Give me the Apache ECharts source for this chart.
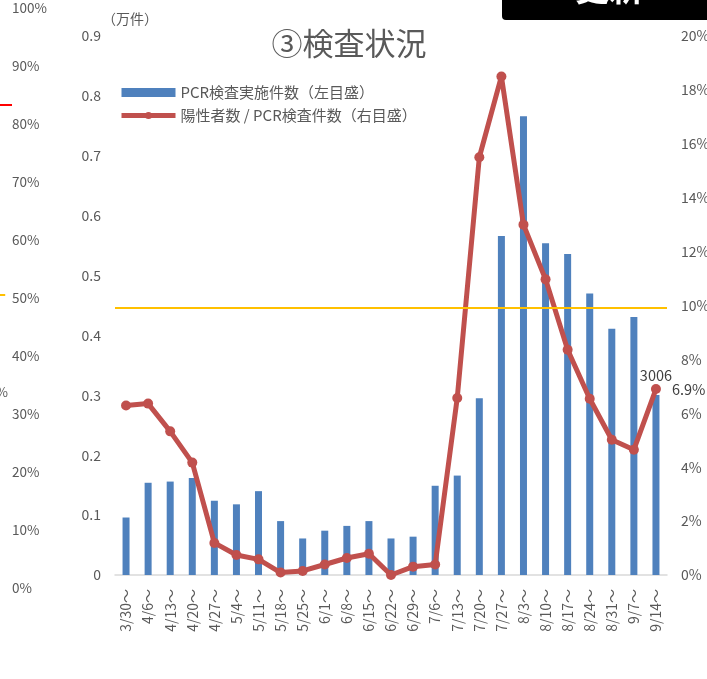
<!DOCTYPE html>
<html>
<head>
    <meta charset="UTF-8">
    <title>③検査状況</title>
    <script src="https://cdn.jsdelivr.net/npm/echarts@6.0.0/dist/echarts.min.js"></script>
    <style>
        html, body { margin: 0; padding: 0; background: #fff; }
        #main { width: 707px; height: 679px; }
    </style>
</head>
<body>
<div id="main"></div>
<script type="text/javascript">
    // 週（開始日）
    var weeks = ['3/30～', '4/6～', '4/13～', '4/20～', '4/27～', '5/4～', '5/11～', '5/18～', '5/25～',
        '6/1～', '6/8～', '6/15～', '6/22～', '6/29～', '7/6～', '7/13～', '7/20～', '7/27～', '8/3～',
        '8/10～', '8/17～', '8/24～', '8/31～', '9/7～', '9/14～'];
    // PCR検査実施件数（万件）
    var pcrCount = [0.096, 0.154, 0.156, 0.162, 0.124, 0.118, 0.140, 0.090, 0.061,
        0.074, 0.082, 0.090, 0.061, 0.064, 0.149, 0.166, 0.295, 0.566, 0.766,
        0.554, 0.536, 0.470, 0.411, 0.431, 0.3006];
    // 陽性率（%）
    var posRate = [6.29, 6.36, 5.33, 4.17, 1.19, 0.74, 0.58, 0.09, 0.15,
        0.39, 0.63, 0.79, 0.0, 0.31, 0.39, 6.57, 15.5, 18.5, 13.0,
        10.97, 8.36, 6.54, 5.02, 4.65, 6.9];
    // 目安線（%）
    var refLine = 9.92;
    // 左隣のグラフの目盛（%）
    var sideTicks = [0, 100];

    var FONT = 'Noto Sans CJK JP';
    var GRAY = '#595959';

    var barData = pcrCount.map(function (v, i) {
        if (i === pcrCount.length - 1) {
            return {
                value: v,
                label: {
                    show: true, position: 'top', distance: 12,
                    formatter: function (p) { return Math.round(p.value * 10000); },
                    color: '#404040', fontSize: 14.5, fontFamily: FONT
                }
            };
        }
        return v;
    });
    var lineData = posRate.map(function (v, i) {
        if (i === posRate.length - 1) {
            return {
                value: v,
                label: {
                    show: true, position: 'right', distance: 11,
                    formatter: '{c}%', color: '#404040', fontSize: 14.5, fontFamily: FONT
                }
            };
        }
        return v;
    });

    var myChart = echarts.init(document.getElementById('main'));
    var option = {
        animation: false,
        textStyle: { fontFamily: FONT },
        title: {
            text: '③検査状況',
            left: 344, top: 23, textAlign: 'center',
            textStyle: { fontSize: 31, fontWeight: 'normal', color: GRAY, fontFamily: FONT }
        },
        legend: {
            orient: 'vertical',
            left: 114, top: 80,
            itemWidth: 54, itemHeight: 9, itemGap: 8,
            textStyle: { fontSize: 15, color: GRAY, fontFamily: FONT },
            data: [
                { name: 'PCR検査実施件数（左目盛）', icon: 'rect' },
                { name: '陽性者数 / PCR検査件数（右目盛）', lineStyle: { width: 5, color: '#C0504D' } }
            ]
        },
        grid: [
            { left: 115, right: 40, top: 36, bottom: 104, outerBoundsMode: 'none' },
            { left: 0, width: 12, top: 8, bottom: 91, outerBoundsMode: 'none' }
        ],
        xAxis: [
            {
                type: 'category', gridIndex: 0, data: weeks,
                axisLine: { lineStyle: { color: '#d9d9d9', width: 1.5 } },
                axisTick: { show: false },
                axisLabel: { rotate: 90, margin: 14, fontSize: 14, color: GRAY, fontFamily: FONT, interval: 0 }
            },
            { type: 'value', gridIndex: 1, min: 0, max: 23, show: false }
        ],
        yAxis: [
            {
                type: 'value', gridIndex: 0, min: 0, max: 0.9, interval: 0.1,
                name: '（万件）', nameLocation: 'end', nameGap: 10,
                nameTextStyle: { fontSize: 14, color: GRAY, align: 'left', padding: [0, 0, 0, -13], fontFamily: FONT },
                axisLine: { show: false }, axisTick: { show: false }, splitLine: { show: false },
                axisLabel: { margin: 14, fontSize: 14, color: GRAY, fontFamily: FONT }
            },
            {
                type: 'value', gridIndex: 0, position: 'right', min: 0, max: 20, interval: 2,
                axisLine: { show: false }, axisTick: { show: false }, splitLine: { show: false },
                axisLabel: { margin: 14, fontSize: 14, color: GRAY, fontFamily: FONT, formatter: '{value}%' }
            },
            {
                type: 'value', gridIndex: 1, position: 'right', min: sideTicks[0], max: sideTicks[1], interval: 10,
                axisLine: { show: false }, axisTick: { show: false }, splitLine: { show: false },
                axisLabel: { margin: 0, fontSize: 13.5, color: GRAY, fontFamily: FONT, formatter: '{value}%' }
            }
        ],
        series: [
            {
                name: 'PCR検査実施件数（左目盛）',
                type: 'bar', xAxisIndex: 0, yAxisIndex: 0,
                barWidth: 7,
                itemStyle: { color: '#4F81BD' },
                data: barData
            },
            {
                name: '陽性者数 / PCR検査件数（右目盛）',
                type: 'line', xAxisIndex: 0, yAxisIndex: 1,
                symbol: 'circle', symbolSize: 10,
                lineStyle: { color: '#C0504D', width: 5 },
                itemStyle: { color: '#C0504D' },
                data: lineData,
                markLine: {
                    silent: true, symbol: 'none', label: { show: false },
                    lineStyle: { color: '#FFC000', width: 2, type: 'solid' },
                    data: [{ yAxis: refLine }]
                }
            },
            {
                type: 'line', xAxisIndex: 1, yAxisIndex: 2, data: [],
                markLine: {
                    silent: true, symbol: 'none', label: { show: false },
                    data: [
                        [{ coord: [0, 83.4], lineStyle: { color: '#FF0000', width: 2, type: 'solid' } }, { coord: [23, 83.4] }],
                        [{ coord: [0, 50.5], lineStyle: { color: '#FFC000', width: 2, type: 'solid' } }, { coord: [10, 50.5] }]
                    ]
                }
            }
        ],
        graphic: [
            { type: 'rect', shape: { x: 502, y: -10, width: 215, height: 30, r: 4 }, style: { fill: '#000' } },
            {
                type: 'text', x: 609, y: 5,
                style: { text: '更新', fill: '#fff', font: 'bold 34px "Noto Sans CJK JP"', textAlign: 'center', textVerticalAlign: 'bottom' }
            },
            {
                type: 'text', x: -4, y: 386,
                style: { text: '%', fill: GRAY, font: '13px "Noto Sans CJK JP"' }
            }
        ]
    };
    myChart.setOption(option);
</script>
</body>
</html>
